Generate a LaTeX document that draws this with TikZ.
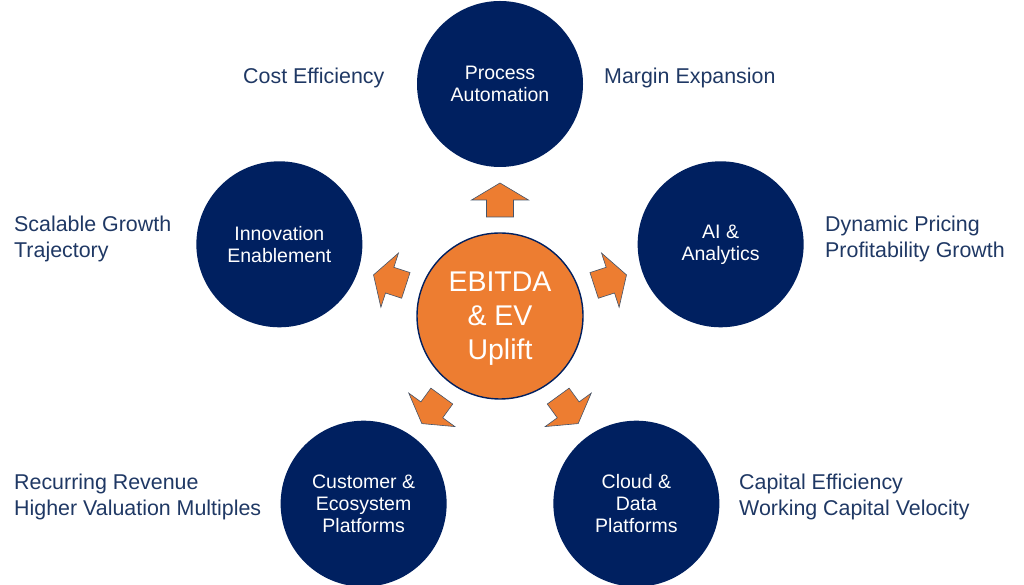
\documentclass[tikz,border=0pt]{standalone}
\usepackage{fontspec}
\setmainfont{Liberation Sans}
\usetikzlibrary{calc}
\definecolor{navy}{HTML}{002060}
\definecolor{labelnavy}{HTML}{1F3864}
\definecolor{orng}{HTML}{ED7D31}
\definecolor{arrowedge}{HTML}{44546A}
\begin{document}
\begin{tikzpicture}[x=1pt,y=1pt,
  outer/.style={circle,fill=navy,draw=none,minimum size=166pt,inner sep=0pt,text=white,align=center,font=\fontsize{19.5}{22}\selectfont},
  hub/.style={circle,fill=orng,draw=navy,line width=1.4pt,minimum size=166pt,inner sep=0pt},
  hubtext/.style={text=white,align=center,inner sep=0pt,font=\fontsize{28.5}{34}\selectfont},
  lbl/.style={text=labelnavy,anchor=west,inner sep=0pt,align=left,font=\fontsize{21.4}{26.5}\selectfont},
  blockarrow/.pic={\draw[fill=orng,draw=arrowedge,line width=0.6pt,line join=miter]
      (-17,-13.5) -- (0,-13.5) -- (0,-28.5) -- (17,0) -- (0,28.5) -- (0,13.5) -- (-17,13.5) -- cycle;}
]
\useasboundingbox (0,0) rectangle (1024,585);
\coordinate (c) at (500,269);
\node[hub] (hub) at (c) {};
\node[hubtext] (hubt) at ($(c)+(0,-3)$) {EBITDA\\\& EV\\Uplift};
\node[outer] (pa) at ($(c)+(90:232)$) {Process\\Automation};
\node[outer] (ie) at ($(c)+(162:232)$) {Innovation\\Enablement};
\node[outer] (ai) at ($(c)+(18:232)$) {AI \&\\Analytics};
\node[outer] (ce) at ($(c)+(234:232)$) {Customer \&\\Ecosystem\\Platforms};
\node[outer] (cd) at ($(c)+(306:232)$) {Cloud \&\\Data\\Platforms};
\foreach \a in {90,162,18,234,306}{
  \pic[rotate=\a] at ($(c)+(\a:116)$) {blockarrow};
}
\node[lbl] (l1) at (243,507) {Cost Efficiency};
\node[lbl] (l2) at (604,507) {Margin Expansion};
\node[lbl] (l3) at (14,346) {Scalable Growth\\Trajectory};
\node[lbl] (l4) at (825,346) {Dynamic Pricing\\Profitability Growth};
\node[lbl] (l5) at (14,88) {Recurring Revenue\\Higher Valuation Multiples};
\node[lbl] (l6) at (739,88) {Capital Efficiency\\Working Capital Velocity};
\end{tikzpicture}
\end{document}
